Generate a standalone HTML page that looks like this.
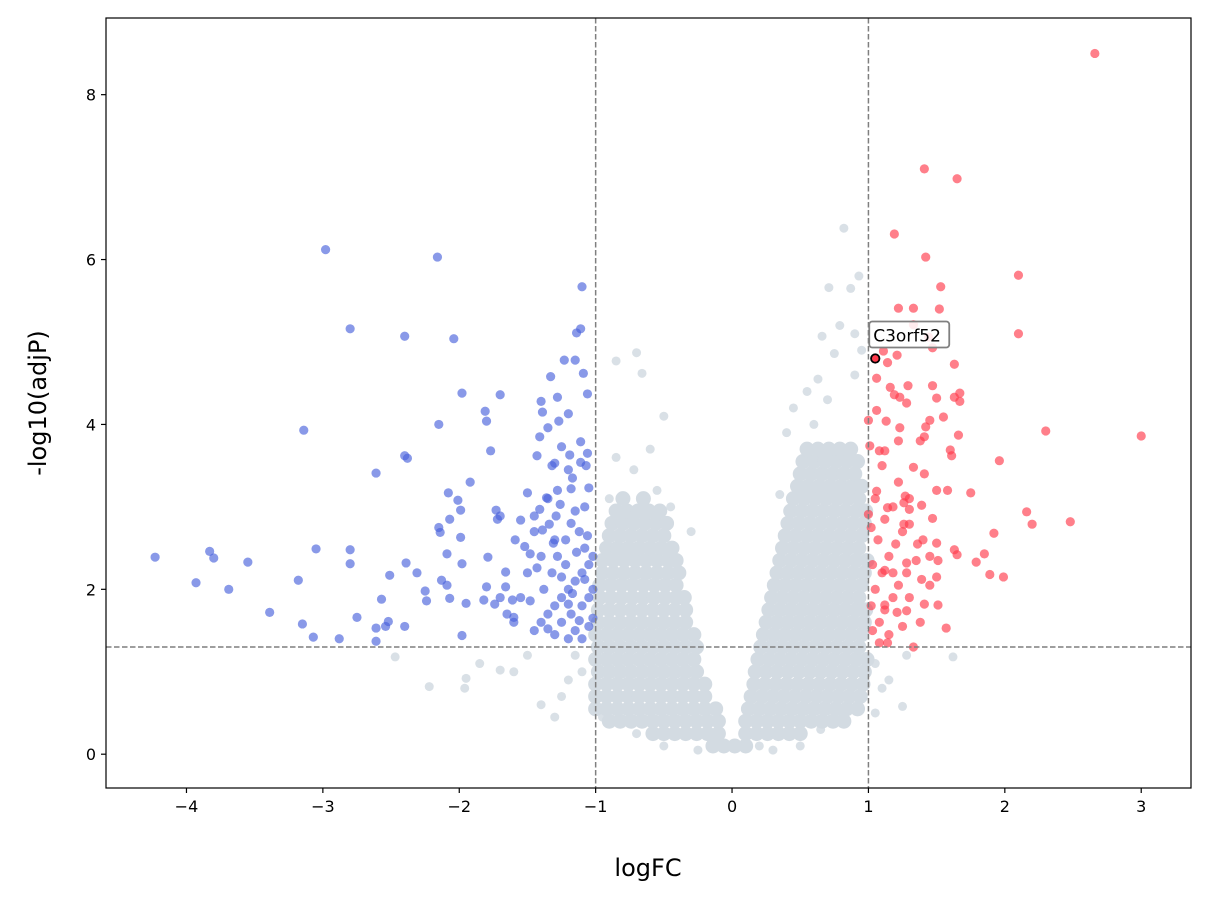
<!DOCTYPE html>
<html><head><meta charset="utf-8"><style>
html,body{margin:0;padding:0;background:#fff;width:1211px;height:906px;overflow:hidden}
svg text{font-family:"DejaVu Sans","Liberation Sans",sans-serif;fill:#000}
</style></head><body>
<svg id="chart" width="1211" height="906" xmlns="http://www.w3.org/2000/svg">
<g id="grey"></g>
<g id="blue"></g>
<g id="red"></g>
<g id="ref"></g>
<g id="anno"></g>
<rect x="106" y="18" width="1085" height="770" fill="none" stroke="#000" stroke-width="1.2"/>
<g id="axes"></g>
<text x="648" y="876" font-size="24" text-anchor="middle">logFC</text>
<text transform="translate(46,403) rotate(-90)" font-size="24" text-anchor="middle">-log10(adjP)</text>
</svg>
<script>
const xTicks=[-4,-3,-2,-1,0,1,2,3];
const yTicks=[0,2,4,6,8];
const fcThresholds=[-1,1];
const pThreshold=[1.3];
const blueX=[-4.23,-3.93,-3.83,-3.80,-3.69,-3.55,-3.39,-3.18,-3.15,-3.14,-3.07,-3.05,-2.98,-2.88,-2.80,-2.80,-2.80,-2.75,-2.61,-2.61,-2.61,-2.57,-2.51,-2.54,-2.52,-2.40,-2.40,-2.38,-2.39,-2.40,-2.31,-2.25,-2.24,-2.16,-2.15,-2.15,-2.14,-2.13,-2.09,-2.08,-2.07,-2.09,-2.07,-2.04,-2.01,-1.99,-1.99,-1.98,-1.98,-1.98,-1.95,-1.92,-1.81,-1.80,-1.82,-1.80,-1.79,-1.77,-1.74,-1.73,-1.72,-1.70,-1.70,-1.66,-1.66,-1.61,-1.60,-1.59,-1.55,-1.52,-1.50,-1.48,-1.48,-1.45,-1.43,-1.43,-1.41,-1.40,-1.41,-1.39,-1.39,-1.36,-1.35,-1.34,-1.33,-1.32,-1.30,-1.31,-1.29,-1.28,-1.27,-1.26,-1.25,-1.23,-1.20,-1.19,-1.18,-1.17,-1.15,-1.14,-1.11,-1.11,-1.11,-1.10,-1.09,-1.07,-1.06,-1.06,-1.05,
-1.45,-1.40,-1.35,-1.30,-1.25,-1.20,-1.15,-1.10,-1.05,-1.38,-1.32,-1.28,-1.22,-1.18,-1.12,-1.08,-1.25,-1.18,-1.10,-1.05,-1.15,-1.05,-1.30,-1.20,-1.10,-1.22,-1.14,-1.06,-1.15,-1.08,-1.40,-1.50,-1.55,-1.60,-1.65,-1.70,-1.02,-1.02,-1.02,-1.28,-1.20,-1.30,-1.45,-1.35,-1.25,-1.12,-1.17,-1.08,-1.20,-1.35];
const blueY=[2.39,2.08,2.46,2.38,2.00,2.33,1.72,2.11,1.58,3.93,1.42,2.49,6.12,1.40,5.16,2.48,2.31,1.66,1.53,1.37,3.41,1.88,2.17,1.55,1.61,5.07,3.62,3.59,2.32,1.55,2.20,1.98,1.86,6.03,4.00,2.75,2.69,2.11,2.05,3.17,2.85,2.43,1.89,5.04,3.08,2.96,2.63,2.31,4.38,1.44,1.83,3.30,4.16,4.04,1.87,2.03,2.39,3.68,1.82,2.96,2.85,4.36,2.89,2.21,2.03,1.87,1.66,2.60,2.84,2.52,3.17,2.43,1.86,2.89,2.26,3.62,3.85,4.28,2.97,2.72,4.15,3.11,3.96,2.79,4.58,3.50,3.53,2.56,2.89,4.33,4.04,3.03,3.73,4.78,4.13,3.63,3.22,3.35,4.78,5.11,5.16,3.54,3.79,5.67,4.62,3.50,4.37,3.65,3.23,
1.5,1.6,1.7,1.8,1.9,2.0,2.1,2.2,2.3,2.0,2.2,2.4,2.6,2.8,2.7,2.5,1.6,1.7,1.8,1.9,1.5,1.55,1.45,1.4,1.4,2.3,2.45,2.65,2.95,3.0,2.4,2.2,1.9,1.6,1.7,1.9,2.0,1.65,2.4,3.2,3.45,2.6,2.7,3.1,2.15,1.62,1.95,2.12,1.82,1.52];
const redX=[2.66,1.41,1.65,1.19,1.42,2.10,1.53,1.22,1.33,1.52,2.10,1.33,1.44,1.11,1.21,1.47,1.06,1.14,1.63,1.29,1.16,1.47,1.19,1.23,1.67,1.63,1.50,1.67,1.28,1.45,1.55,1.06,1.00,1.13,1.23,1.42,2.30,3.00,1.41,1.66,1.22,1.38,1.01,1.08,1.12,1.60,1.61,1.96,1.10,1.33,1.41,1.06,1.50,1.58,1.75,1.27,1.26,1.39,1.30,1.14,1.00,1.47,2.16,2.48,2.20,1.92,1.26,1.30,1.36,1.50,1.63,1.65,1.85,1.28,1.51,1.79,1.12,1.89,1.99,1.39,1.50,1.41,1.51,1.12,1.21,1.28,1.57,1.33,1.14,
1.03,1.08,1.12,1.18,1.22,1.28,1.05,1.10,1.15,1.20,1.25,1.03,1.07,1.12,1.18,1.02,1.05,1.15,1.25,1.30,1.35,1.40,1.45,1.08,1.02,1.18,1.30,1.22,1.38,1.45];
const redY=[8.50,7.10,6.98,6.31,6.03,5.81,5.67,5.41,5.41,5.40,5.10,5.21,5.06,4.89,4.84,4.93,4.56,4.75,4.73,4.47,4.45,4.47,4.36,4.33,4.38,4.33,4.32,4.28,4.26,4.05,4.09,4.17,4.05,4.04,3.96,3.97,3.92,3.86,3.85,3.87,3.80,3.80,3.74,3.68,3.68,3.69,3.62,3.56,3.50,3.48,3.40,3.19,3.20,3.20,3.17,3.13,3.05,3.02,2.97,2.99,2.91,2.86,2.94,2.82,2.79,2.68,2.79,2.79,2.55,2.56,2.48,2.42,2.43,2.32,2.35,2.33,2.23,2.18,2.15,2.12,2.15,1.82,1.81,1.81,1.72,1.74,1.53,1.30,1.35,
1.5,1.6,1.75,1.9,2.05,2.2,2.0,2.2,2.4,2.55,2.7,2.3,2.6,2.85,3.0,2.75,3.1,1.45,1.55,1.9,2.35,2.6,2.05,1.35,1.8,2.2,3.1,3.3,1.6,2.4];
const greyRowY=[0.1,0.25,0.4,0.55,0.7,0.85,1.0,1.15,1.3,1.45,1.6,1.75,1.9,2.05,2.2,2.35,2.5,2.65,2.8,2.95,3.1,3.25,3.4,3.55,3.7];
const greyRowX=[
[-0.14,-0.06,0.02,0.1],
[-0.58,-0.5,-0.42,-0.34,-0.26,-0.18,-0.1,0.1,0.18,0.26,0.34,0.42,0.5],
[-0.9,-0.82,-0.74,-0.66,-0.58,-0.5,-0.42,-0.34,-0.26,-0.18,-0.1,0.1,0.18,0.26,0.34,0.42,0.5,0.58,0.66,0.74,0.82],
[-1.0,-0.92,-0.84,-0.76,-0.68,-0.6,-0.52,-0.44,-0.36,-0.28,-0.2,-0.12,0.12,0.2,0.28,0.36,0.44,0.52,0.6,0.68,0.76,0.84,0.92],
[-1.0,-0.92,-0.84,-0.76,-0.68,-0.6,-0.52,-0.44,-0.36,-0.28,-0.2,0.14,0.22,0.3,0.38,0.46,0.54,0.62,0.7,0.78,0.86,0.94],
[-1.0,-0.92,-0.84,-0.76,-0.68,-0.6,-0.52,-0.44,-0.36,-0.28,-0.2,0.16,0.24,0.32,0.4,0.48,0.56,0.64,0.72,0.8,0.88,0.96],
[-0.98,-0.9,-0.82,-0.74,-0.66,-0.58,-0.5,-0.42,-0.34,-0.26,0.17,0.25,0.33,0.41,0.49,0.57,0.65,0.73,0.81,0.89,0.97],
[-1.0,-0.92,-0.84,-0.76,-0.68,-0.6,-0.52,-0.44,-0.36,-0.28,0.19,0.27,0.35,0.43,0.51,0.59,0.67,0.75,0.83,0.91,0.99],
[-0.98,-0.9,-0.82,-0.74,-0.66,-0.58,-0.5,-0.42,-0.34,-0.26,0.21,0.29,0.37,0.45,0.53,0.61,0.69,0.77,0.85,0.93],
[-1.0,-0.92,-0.84,-0.76,-0.68,-0.6,-0.52,-0.44,-0.36,-0.28,0.23,0.31,0.39,0.47,0.55,0.63,0.71,0.79,0.87,0.95],
[-0.98,-0.9,-0.82,-0.74,-0.66,-0.58,-0.5,-0.42,-0.34,0.25,0.33,0.41,0.49,0.57,0.65,0.73,0.81,0.89,0.97],
[-0.98,-0.9,-0.82,-0.74,-0.66,-0.58,-0.5,-0.42,-0.34,0.27,0.35,0.43,0.51,0.59,0.67,0.75,0.83,0.91,0.98],
[-0.97,-0.89,-0.81,-0.73,-0.65,-0.57,-0.49,-0.41,-0.35,0.29,0.37,0.45,0.53,0.61,0.69,0.77,0.85,0.93],
[-0.97,-0.89,-0.81,-0.73,-0.65,-0.57,-0.49,-0.41,0.31,0.39,0.47,0.55,0.63,0.71,0.79,0.87,0.95],
[-0.95,-0.87,-0.79,-0.71,-0.63,-0.55,-0.47,-0.39,0.33,0.41,0.49,0.57,0.65,0.73,0.81,0.89,0.97],
[-0.95,-0.87,-0.79,-0.71,-0.63,-0.55,-0.47,-0.41,0.35,0.43,0.51,0.59,0.67,0.75,0.83,0.91,0.99],
[-0.92,-0.84,-0.76,-0.68,-0.6,-0.52,-0.44,0.37,0.45,0.53,0.61,0.69,0.77,0.85,0.93],
[-0.9,-0.82,-0.74,-0.66,-0.58,-0.5,0.39,0.47,0.55,0.63,0.71,0.79,0.87,0.95],
[-0.88,-0.8,-0.72,-0.64,-0.56,-0.48,0.41,0.49,0.57,0.65,0.73,0.81,0.89,0.97],
[-0.85,-0.77,-0.69,-0.61,-0.53,0.43,0.51,0.59,0.67,0.75,0.83,0.91,0.98],
[-0.8,-0.65,0.45,0.53,0.61,0.69,0.77,0.85,0.93],
[0.48,0.56,0.64,0.72,0.8,0.88,0.95],
[0.5,0.58,0.66,0.74,0.82,0.9],
[0.52,0.6,0.68,0.76,0.84,0.92],
[0.55,0.63,0.71,0.79,0.87]];
const greyOutX=[-2.22,-1.96,-1.95,-2.47,-1.7,-1.85,-1.6,-1.5,-1.4,-1.3,-1.25,-1.2,-1.1,-1.15,-0.85,-0.7,-0.66,-0.5,-0.6,-0.85,-0.55,-0.45,-0.3,-0.9,-0.72,0.82,0.93,0.87,0.71,0.66,0.79,0.9,0.75,0.63,0.55,0.45,0.6,0.4,0.35,0.9,0.95,0.7,1.05,1.1,1.25,1.62,1.28,1.15,1.05,0.2,0.3,-0.25,0.5,-0.5,0.65,-0.7,0.8,-0.95];
const greyOutY=[0.82,0.8,0.92,1.18,1.02,1.1,1.0,1.2,0.6,0.45,0.7,0.9,1.0,1.2,4.77,4.87,4.62,4.1,3.7,3.6,3.2,3.0,2.7,3.1,3.45,6.38,5.8,5.65,5.66,5.07,5.2,5.1,4.86,4.55,4.4,4.2,4.0,3.9,3.15,4.6,4.9,4.3,0.5,0.8,0.58,1.18,1.2,0.9,1.1,0.1,0.05,0.05,0.1,0.1,0.3,0.25,0.5,0.45];
const labelGene=["C3orf52"];const labelX=[1.05];const labelY=[4.80];

const X0=106,X1=1191,Y0=18,Y1=788,xmin=-4.59,xmax=3.365,ymin=-0.41,ymax=8.93;
const sx=v=>X0+(v-xmin)/(xmax-xmin)*(X1-X0);
const sy=v=>Y1-(v-ymin)/(ymax-ymin)*(Y1-Y0);
const NS="http://www.w3.org/2000/svg";
function mk(tag,parent,attrs){const e=document.createElementNS(NS,tag);for(const k in attrs)e.setAttribute(k,attrs[k]);parent.appendChild(e);return e;}
const gG=document.getElementById('grey'),gB=document.getElementById('blue'),gR=document.getElementById('red');
greyOutX.forEach((x,i)=>{
 const c=mk('circle',gG,{cx:sx(x),cy:sy(greyOutY[i]),r:4.5,fill:'#cfd8e0','fill-opacity':0.8});
 
 
});
greyRowY.forEach((y,i)=>greyRowX[i].forEach(x=>{
 const c=mk('circle',gG,{cx:sx(x),cy:sy(y),r:7.5,fill:'#d3dbe2'});
 
 
}));
blueX.forEach((x,i)=>{
 const c=mk('circle',gB,{cx:sx(x),cy:sy(blueY[i]),r:4.6,fill:'#4a62dc','fill-opacity':0.65});
 
 
});
redX.forEach((x,i)=>{
 const c=mk('circle',gR,{cx:sx(x),cy:sy(redY[i]),r:4.6,fill:'#ff3b4c','fill-opacity':0.65});
 
 
});
const gRef=document.getElementById('ref');
fcThresholds.forEach(v=>{
 const l=mk('line',gRef,{x1:sx(v),x2:sx(v),y1:Y0,y2:Y1,stroke:'#7f7f7f','stroke-width':1.5,'stroke-dasharray':'5.5,2.5'});
 
 
});
pThreshold.forEach(v=>{
 const l=mk('line',gRef,{x1:X0,x2:X1,y1:sy(v),y2:sy(v),stroke:'#7f7f7f','stroke-width':1.5,'stroke-dasharray':'5.5,2.5'});
 
 
});
const gA=document.getElementById('anno');
labelGene.forEach((g,i)=>{
 const px=sx(labelX[i]),py=sy(labelY[i]);
 const p=mk('circle',gA,{cx:px,cy:py,r:4.2,fill:'#ff3b4c',stroke:'#000','stroke-width':1.8});
 
 
 const b=mk('rect',gA,{x:px-6,y:py-37,width:80,height:26,rx:3,fill:'#fff','fill-opacity':0.85,stroke:'#808080','stroke-width':1.8});
 
 
 const t=mk('text',gA,{x:px-2,y:py-17,'font-size':17});
 t.textContent=g;
 
 
});
const gX=document.getElementById('axes');
xTicks.forEach(v=>{
 const l=mk('line',gX,{x1:sx(v),x2:sx(v),y1:Y1,y2:Y1+5,stroke:'#000','stroke-width':1.2});
 
 
 const t=mk('text',gX,{x:sx(v),y:Y1+24,'font-size':16,'text-anchor':'middle'});
 t.textContent=v<0?'\u2212'+Math.abs(v):String(v);
 
 
});
yTicks.forEach(v=>{
 const l=mk('line',gX,{x1:X0-5,x2:X0,y1:sy(v),y2:sy(v),stroke:'#000','stroke-width':1.2});
 
 
 const t=mk('text',gX,{x:X0-10,y:sy(v)+6,'font-size':16,'text-anchor':'end'});
 t.textContent=String(v);
 
 
});
</script>
</body></html>
